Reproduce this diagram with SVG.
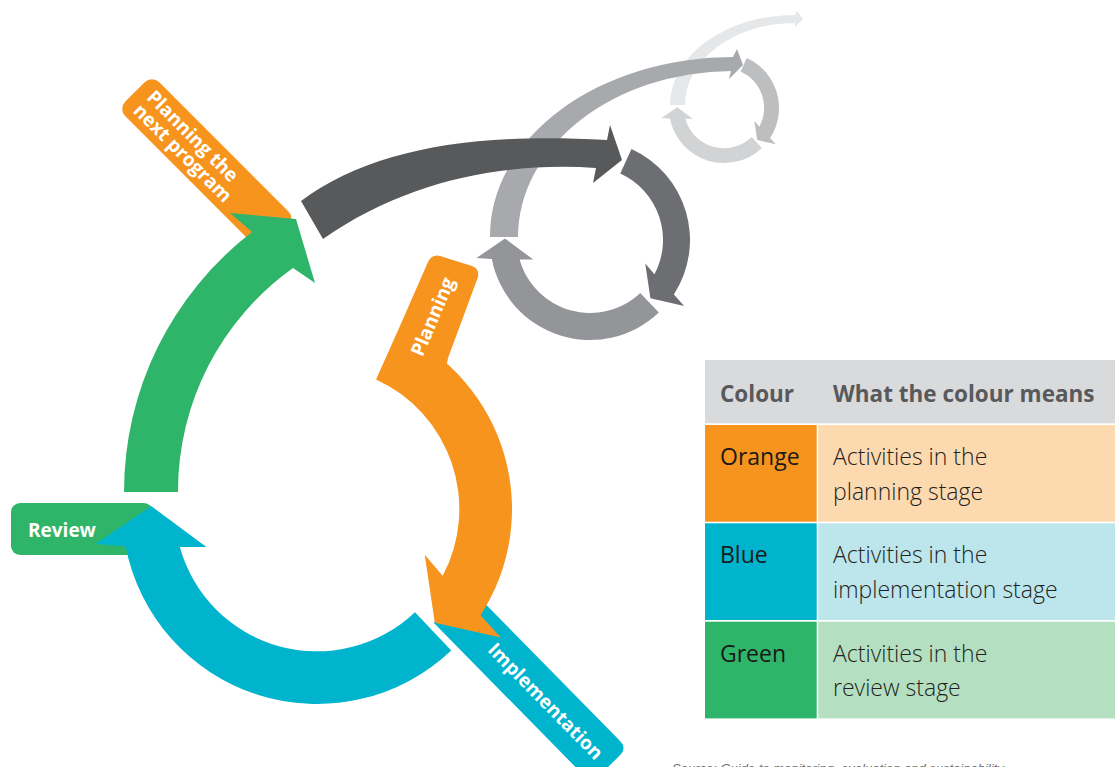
<svg xmlns="http://www.w3.org/2000/svg" width="1115" height="767" viewBox="0 0 1115 767">
<defs>
<style>
.lbl{font-family:"Open Sans","Liberation Sans",sans-serif;font-weight:700;font-size:19px;fill:#ffffff}
.th{font-family:"Open Sans","Liberation Sans",sans-serif;font-weight:700;font-size:22.5px;fill:#58595b}
.tk{font-family:"Open Sans","Liberation Sans",sans-serif;font-weight:400;font-size:23px;fill:#1a1a1a}
.td{font-family:"Open Sans","Liberation Sans",sans-serif;font-weight:300;font-size:23px;fill:#231f20}
.src{font-family:"Liberation Sans",Arial,sans-serif;font-style:italic;font-size:13px;fill:#6d6e71}
</style>
<path id="ra" d="M30.27,-66.43 L41.47,-91 A100,100 0 0 1 83.87,54.46 L94.2,65.96 L60.42,58.35 L55.23,23.44 L64.45,34.27 A73,73 0 0 0 30.27,-66.43 Z"/>
<path id="ba" d="M68.84,72.54 A100,100 0 0 1 -98.16,19.08 L-113.58,17.99 L-84.99,-1.48 L-56.73,19.54 L-70.34,19.51 A73,73 0 0 0 50.25,52.95 Z"/>
</defs>
<rect width="1115" height="767" fill="#ffffff"/>

<g id="legend">
<rect x="705" y="360" width="410" height="63.3" fill="#d9dadb"/>
<rect x="705" y="425" width="111.7" height="96.7" fill="#f7941e"/>
<rect x="818.3" y="425" width="296.7" height="96.7" fill="#fdd9b0"/>
<rect x="705" y="523.3" width="111.7" height="96.7" fill="#00b4cd"/>
<rect x="818.3" y="523.3" width="296.7" height="96.7" fill="#bde5ec"/>
<rect x="705" y="621.7" width="111.7" height="96.7" fill="#2fb56a"/>
<rect x="818.3" y="621.7" width="296.7" height="96.7" fill="#b5dfc1"/>
<text class="th" x="720" y="401.5">Colour</text>
<text class="th" x="833" y="401.5">What the colour means</text>
<text class="tk" x="720" y="465">Orange</text>
<text class="td" x="833" y="465">Activities in the</text>
<text class="td" x="833" y="499.5">planning stage</text>
<text class="tk" x="720" y="563.3">Blue</text>
<text class="td" x="833" y="563.3">Activities in the</text>
<text class="td" x="833" y="597.8">implementation stage</text>
<text class="tk" x="720" y="661.7">Green</text>
<text class="td" x="833" y="661.7">Activities in the</text>
<text class="td" x="833" y="696.2">review stage</text>
</g>

<text class="src" x="672" y="773">Source: Guide to monitoring, evaluation and sustainability</text>

<g id="node-planning-next" transform="translate(152,75) rotate(45)">
<rect x="0" y="0" width="203" height="48" rx="10" fill="#f7941e"/>
<text class="lbl" x="12" y="21">Planning the</text>
<text class="lbl" x="12" y="40">next program</text>
</g>

<g id="node-review">
<rect x="11" y="503" width="142" height="52" rx="9" fill="#2fb56a"/>
<text class="lbl" x="28" y="537">Review</text>
</g>

<g id="node-implementation" transform="translate(317,509) rotate(45.5)">
<path d="M163,-3.5 L378,-3.5 Q388,-3.5 388,-13.5 L388,-43.5 Q388,-53.5 378,-53.5 L163,-53.5 Z" fill="#00b4cd"/>
<text class="lbl" x="220" y="-21.7">Implementation</text>
</g>

<g id="connectors">
<path d="M670,105 A125,90 0 0 1 795,15 L797,11 L803,19 L795,27 L795,23 A110,82 0 0 0 685,105 Z" fill="#e6e7e8"/>
<use href="#ra" transform="translate(724,108) scale(0.55)" fill="#bcbec0"/>
<use href="#ba" transform="translate(724,108) scale(0.55)" fill="#d1d3d4"/>
<path d="M490,237 A243,179 0 0 1 733,57 L737,49 L743,65 L729,79 L731,71 A215,166 0 0 0 518,237 Z" fill="#a7a9ac"/>
<use href="#ra" transform="translate(590,240)" fill="#6d6e71"/>
<use href="#ba" transform="translate(590,240)" fill="#939598"/>
<path d="M301,201 C370,150 470,132 607,140 L610,125 L622,160 L593,183 L596,168 C510,162 410,178 323,239 Z" fill="#58595b"/>
<path d="M124,492 A328,328 0 0 1 252,232 L230,213 L296,219 L315,283 L293,268 A274,274 0 0 0 178,492 Z" fill="#2fb56a"/>
<use href="#ba" transform="translate(317,509) scale(1.95)" fill="#00b4cd"/>
<use href="#ra" transform="translate(317,509) scale(1.95)" fill="#f7941e"/>
</g>

<g id="node-planning">
<path d="M378,376 L428,262 Q432,254 440,256 L472,266 Q480,269 478,277 L448,358 L440,400 Z" fill="#f7941e"/>
<text class="lbl" transform="translate(438.8,319.2) rotate(-67)" text-anchor="middle">Planning</text>
</g>
</svg>
